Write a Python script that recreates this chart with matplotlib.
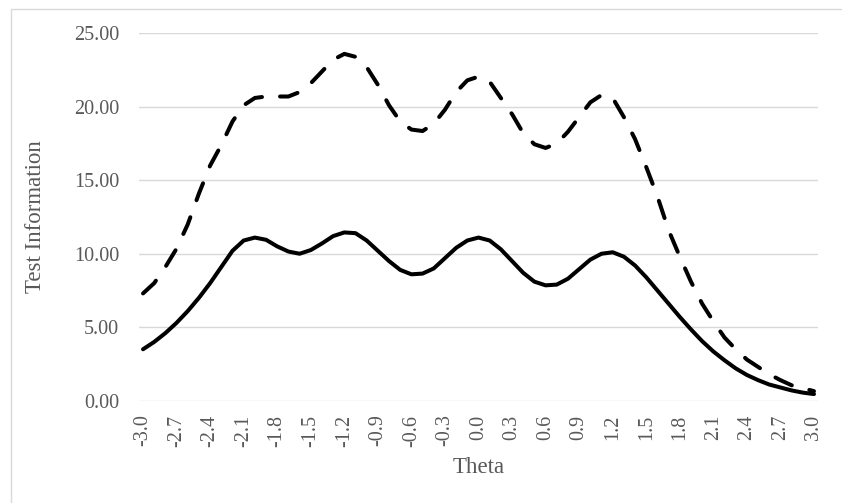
import matplotlib
matplotlib.use("Agg")
import matplotlib.pyplot as plt
from matplotlib.patches import Rectangle
from matplotlib.ticker import FormatStrFormatter

# theta grid, one point every 0.1
theta = [round(-3.0 + 0.1 * i, 1) for i in range(61)]

# solid line
info_solid = [3.5, 4.0, 4.6, 5.3, 6.1, 7.0, 8.0, 9.1, 10.2, 10.9,
              11.1, 10.95, 10.5, 10.15, 10.0, 10.25, 10.7, 11.2, 11.45, 11.4,
              10.9, 10.2, 9.5, 8.9, 8.6, 8.65, 9.0, 9.7, 10.4, 10.9,
              11.1, 10.9, 10.3, 9.5, 8.7, 8.1, 7.85, 7.9, 8.3, 8.95,
              9.6, 10.0, 10.1, 9.8, 9.2, 8.4, 7.5, 6.6, 5.7, 4.85,
              4.05, 3.35, 2.75, 2.2, 1.75, 1.4, 1.1, 0.9, 0.7, 0.55,
              0.45]

# dashed line
info_dashed = [7.3, 8.0, 9.1, 10.35, 12.0, 14.1, 16.0, 17.4, 19.0, 20.1,
               20.6, 20.7, 20.7, 20.7, 21.0, 21.6, 22.4, 23.2, 23.6, 23.4,
               22.7, 21.5, 20.1, 19.0, 18.45, 18.35, 18.85, 19.8, 21.0, 21.8,
               22.05, 21.7, 20.6, 19.5, 18.2, 17.45, 17.2, 17.5, 18.3, 19.3,
               20.3, 20.8, 20.6, 19.3, 17.8, 15.9, 13.9, 11.6, 9.8, 8.1,
               6.6, 5.4, 4.3, 3.5, 2.8, 2.3, 1.8, 1.4, 1.05, 0.85,
               0.65]

xtick_vals = [round(-3.0 + 0.3 * i, 1) for i in range(21)]
ytick_vals = [0, 5, 10, 15, 20, 25]

plt.rcParams['font.family'] = ['Liberation Serif', 'DejaVu Serif']
grey = '#595959'

fig = plt.figure(figsize=(8.42, 5.03), dpi=100)
ax = fig.add_axes([139 / 842, 1 - 400.7 / 503, 679 / 842, 367.4 / 503])

# light frame round the chart area
fig.patches.append(Rectangle((11 / 842, -0.2), 1.2, 1.2 - 9 / 503, transform=fig.transFigure,
                             fill=False, edgecolor='#d9d9d9', linewidth=1.0, zorder=0))

ax.plot(theta, info_dashed, color='black', linewidth=2.9, dashes=(4.5, 4.5),
        dash_capstyle='round', solid_joinstyle='round', zorder=3)
ax.plot(theta, info_solid, color='black', linewidth=2.9, solid_capstyle='round',
        solid_joinstyle='round', zorder=3)

ax.set_xlim(-3.036, 3.036)
ax.set_ylim(0, 25)
ax.set_xticks(xtick_vals)
ax.set_xticklabels(['%.1f' % v for v in xtick_vals], rotation=90)
ax.set_yticks(ytick_vals)
ax.yaxis.set_major_formatter(FormatStrFormatter('%.2f'))

ax.grid(axis='y', color='#d9d9d9', linewidth=1.0)
ax.set_axisbelow(True)
for s in ax.spines.values():
    s.set_visible(False)
ax.tick_params(axis='both', length=0, labelsize=14.5, labelcolor=grey)
ax.tick_params(axis='y', pad=14.4)
ax.tick_params(axis='x', pad=10)

ax.set_xlabel('Theta', fontsize=16.5, color=grey)
ax.set_ylabel('Test Information', fontsize=16.5, color=grey)
ax.xaxis.set_label_coords(0.5, -0.153)
ax.yaxis.set_label_coords(-0.137, 0.5)

fig.savefig('out.png', dpi=100)
